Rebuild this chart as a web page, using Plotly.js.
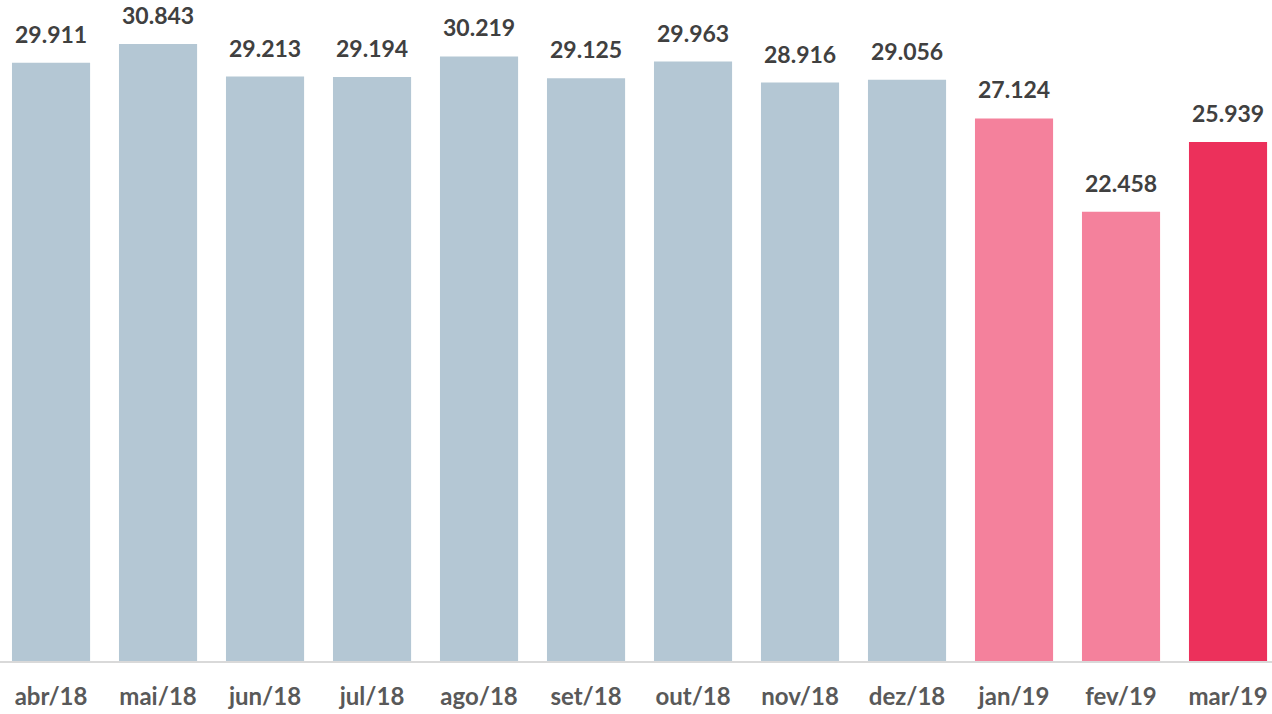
<!DOCTYPE html>
<html>
<head>
<meta charset="utf-8">
<script src="https://cdn.plot.ly/plotly-3.0.1.min.js"></script>
<style>html,body{margin:0;padding:0;background:#fff;}#chart{width:1272px;height:714px;}</style>
</head>
<body>
<div id="chart"></div>
<script>
const categories = ["abr/18","mai/18","jun/18","jul/18","ago/18","set/18","out/18","nov/18","dez/18","jan/19","fev/19","mar/19"];
const values = [29911,30843,29213,29194,30219,29125,29963,28916,29056,27124,22458,25939];
const valueLabels = ["29.911","30.843","29.213","29.194","30.219","29.125","29.963","28.916","29.056","27.124","22.458","25.939"];
const barColors = ["#B4C7D4","#B4C7D4","#B4C7D4","#B4C7D4","#B4C7D4","#B4C7D4","#B4C7D4","#B4C7D4","#B4C7D4","#F4819C","#F4819C","#EC305B"];

const font = "Lato, 'Open Sans', sans-serif";
const trace = {
  type: "bar",
  x: categories,
  y: values,
  marker: {color: barColors},
  hoverinfo: "none"
};
const annotations = categories.map((c, i) => ({
  x: c, y: values[i], xref: "x", yref: "y",
  text: "<b>" + valueLabels[i] + "</b>",
  showarrow: false, yanchor: "bottom", yshift: 13,
  font: {family: font, size: 23, color: "#404040"}
}));
const layout = {
  width: 1272, height: 714,
  margin: {l: 0, r: 0, t: 0, b: 53},
  paper_bgcolor: "#fff", plot_bgcolor: "#fff",
  bargap: 0.27,
  showlegend: false,
  xaxis: {
    type: "category",
    range: [-0.477, 11.411],
    showline: true, linecolor: "#D9D9D9", linewidth: 1.5,
    showgrid: false, zeroline: false,
    ticks: "", ticklabelstandoff: 14,
    tickfont: {family: font, size: 24, color: "#595959", weight: "bold"}
  },
  yaxis: {
    range: [0, 33042],
    visible: false, showgrid: false, zeroline: false
  },
  annotations: annotations
};
Plotly.newPlot("chart", [trace], layout, {staticPlot: true, displayModeBar: false});
</script>
</body>
</html>
